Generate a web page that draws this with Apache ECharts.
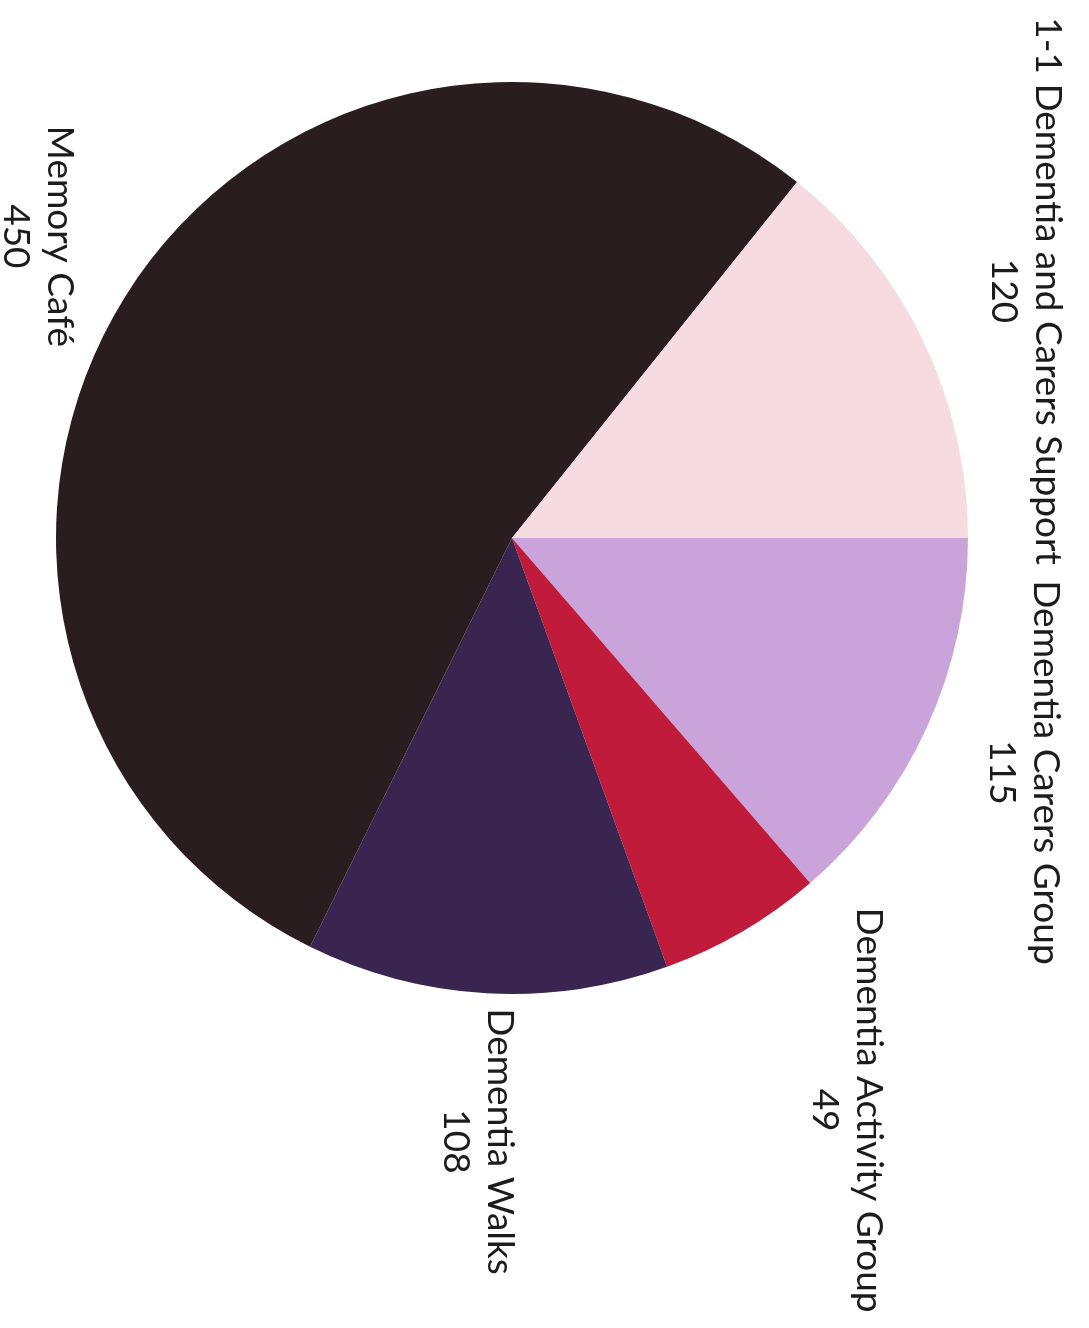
<!DOCTYPE html>
<html><head><meta charset="utf-8">
<script src="https://cdn.jsdelivr.net/npm/echarts@6/dist/echarts.min.js"></script>
<style>html,body{margin:0;padding:0;background:#fff}#chart{width:1089px;height:1328px}</style>
</head><body><div id="chart"></div>
<script>
const categories = ['Dementia Carers Group', 'Dementia Activity Group', 'Dementia Walks', 'Memory Café', '1-1 Dementia and Carers Support'];
const values = [115, 49, 108, 450, 120];
const colors = ['#c9a3da', '#c01b3b', '#3a2450', '#2a1d20', '#f6dbe0'];

const CX = 512, CY = 538, R = 456, GAP = 14;
const FONT_FAMILY = 'Lato';
// choose font size so that the label widths match the reference
const ctx = document.createElement('canvas').getContext('2d');
ctx.font = '100px ' + FONT_FAMILY;
const FONT = Math.round(408 / ctx.measureText('Dementia Activity Group').width * 100);
const LINE_H = Math.round(FONT * 1.2);

const total = values.reduce((a, b) => a + b, 0);
const mids = []; let acc = 0;
values.forEach(v => { mids.push((acc + v / 2) / total * 2 * Math.PI); acc += v; });

function place(i, w, h) {
  const a = mids[i], dx = Math.cos(a), dy = Math.sin(a);
  const hw = w / 2, hh = h / 2;
  let t = 0;
  for (; t < 3000; t += 0.5) {
    const ex = Math.max(0, Math.abs(t * dx) - hw), ey = Math.max(0, Math.abs(t * dy) - hh);
    if (Math.hypot(ex, ey) >= R + GAP) break;
  }
  return [CX + t * dx, CY + t * dy];
}

const chart = echarts.init(document.getElementById('chart'), null, {renderer: 'canvas'});
chart.setOption({
  animation: false,
  backgroundColor: '#ffffff',
  series: [{
    type: 'pie',
    center: [CX, CY],
    radius: [0, R],
    startAngle: 0,
    clockwise: true,
    avoidLabelOverlap: false,
    emphasis: {disabled: true},
    itemStyle: {borderWidth: 0},
    label: {
      show: true,
      position: 'outside',
      formatter: '{b}\n{c}',
      fontFamily: FONT_FAMILY,
      fontSize: FONT,
      lineHeight: LINE_H,
      color: '#1c1c1c',
      align: 'center'
    },
    labelLine: {show: false},
    labelLayout: function (p) {
      const r = p.labelRect;
      const pos = place(p.dataIndex, r.height, r.width);
      return {x: pos[0], y: pos[1], rotate: -90, align: 'center', verticalAlign: 'middle'};
    },
    data: categories.map((c, i) => ({name: c, value: values[i], itemStyle: {color: colors[i]}}))
  }]
});
</script></body></html>
